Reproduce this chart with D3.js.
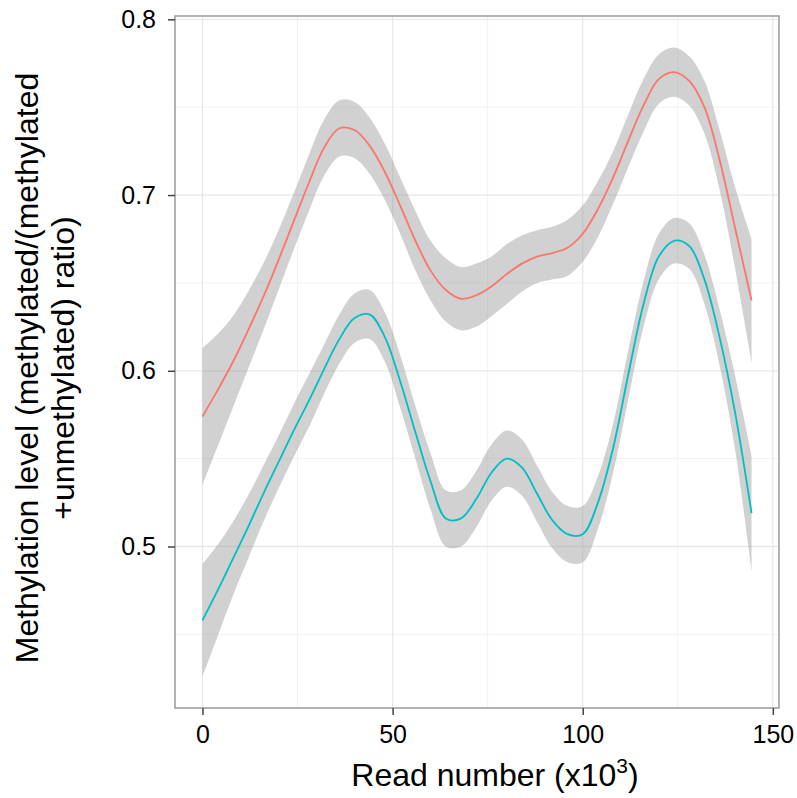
<!DOCTYPE html>
<html>
<head>
<meta charset="utf-8">
<script src="https://cdn.jsdelivr.net/npm/d3@7"></script>
<style>
  body { margin: 0; background: #fff; }
  text { font-family: "Liberation Sans", Arial, sans-serif; }
</style>
</head>
<body>
<div id="svg-container"></div>
<script>
////////////////////////////////////////////////////////////////////
////////////////////////////  Data  ////////////////////////////////
// read number (x10^3) where the smooth fits were sampled
const readNumber = [0, 4, 8, 12, 16, 20, 24, 28, 32, 36, 40, 44, 48, 52, 56, 60, 64, 68, 72,
  76, 80, 84, 88, 92, 96, 100, 104, 108, 112, 116, 120, 124, 128, 132, 136, 140, 144.4];

// upper (red) group: fitted methylation level and half width of the band
const redFit = [0.574, 0.589, 0.605, 0.623, 0.642, 0.663, 0.685, 0.707, 0.727, 0.738, 0.737, 0.728,
  0.713, 0.694, 0.674, 0.657, 0.646, 0.641, 0.643, 0.648, 0.655, 0.661, 0.665, 0.667, 0.670, 0.678,
  0.692, 0.710, 0.731, 0.751, 0.766, 0.770, 0.765, 0.750, 0.720, 0.682, 0.640];
const redSe = [0.039, 0.032, 0.026, 0.022, 0.019, 0.017, 0.016, 0.016, 0.016, 0.016, 0.016, 0.016,
  0.016, 0.016, 0.017, 0.017, 0.018, 0.018, 0.018, 0.017, 0.017, 0.016, 0.015, 0.015, 0.016, 0.016,
  0.016, 0.015, 0.015, 0.015, 0.014, 0.014, 0.014, 0.015, 0.017, 0.023, 0.035];

// lower (cyan) group
const cyanFit = [0.458, 0.475, 0.493, 0.511, 0.530, 0.548, 0.566, 0.583, 0.601, 0.618, 0.630, 0.632,
  0.619, 0.594, 0.565, 0.537, 0.516, 0.516, 0.527, 0.542, 0.550, 0.545, 0.530, 0.515, 0.507, 0.507,
  0.525, 0.556, 0.598, 0.638, 0.665, 0.674, 0.671, 0.652, 0.619, 0.577, 0.519];
const cyanSe = [0.032, 0.026, 0.021, 0.018, 0.016, 0.015, 0.015, 0.015, 0.014, 0.014, 0.014, 0.014,
  0.014, 0.015, 0.015, 0.016, 0.016, 0.016, 0.016, 0.016, 0.016, 0.016, 0.016, 0.016, 0.016, 0.016,
  0.015, 0.014, 0.014, 0.013, 0.013, 0.013, 0.013, 0.014, 0.016, 0.021, 0.033];

const xTicks = [0, 50, 100, 150];
const xMinor = [25, 75, 125];
const yTicks = [0.5, 0.6, 0.7, 0.8];
const yMinor = [0.45, 0.55, 0.65, 0.75];

const series = [
  { name: "red", fit: redFit, se: redSe, color: "#F8766D" },
  { name: "cyan", fit: cyanFit, se: cyanSe, color: "#00BFC4" },
].map((s) => ({
  ...s,
  values: readNumber.map((x, i) => ({ x, y: s.fit[i], lo: s.fit[i] - s.se[i], hi: s.fit[i] + s.se[i] })),
}));

////////////////////////////////////////////////////////////////////
////////////////////////////  Init  ////////////////////////////////
const width = 797;
const height = 798;
const margin = { top: 16, right: 18, bottom: 90, left: 175 };

const svg = d3.select("#svg-container").append("svg")
  .attr("width", width).attr("height", height);

// ggplot-like 5% expansion
const expand = (ext) => {
  const pad = (ext[1] - ext[0]) * 0.05;
  return [ext[0] - pad, ext[1] + pad];
};
const allVals = series.flatMap((s) => s.values);

const xScale = d3.scaleLinear()
  .domain(expand(d3.extent(readNumber)))
  .range([margin.left, width - margin.right]);
const yScale = d3.scaleLinear()
  .domain(expand([d3.min(allVals, (d) => d.lo), d3.max(allVals, (d) => d.hi)]))
  .range([height - margin.bottom, margin.top]);

const x0 = margin.left, x1 = width - margin.right;
const y0 = margin.top, y1 = height - margin.bottom;

////////////////////////////////////////////////////////////////////
////////////////////////////  Grid  ////////////////////////////////
const grid = svg.append("g");
grid.selectAll(".vminor").data(xMinor).join("line")
  .attr("x1", (d) => xScale(d)).attr("x2", (d) => xScale(d))
  .attr("y1", y0).attr("y2", y1)
  .attr("stroke", "#f2f2f2").attr("stroke-width", 1);
grid.selectAll(".hminor").data(yMinor).join("line")
  .attr("y1", (d) => yScale(d)).attr("y2", (d) => yScale(d))
  .attr("x1", x0).attr("x2", x1)
  .attr("stroke", "#f2f2f2").attr("stroke-width", 1);
grid.selectAll(".vmajor").data(xTicks).join("line")
  .attr("x1", (d) => xScale(d)).attr("x2", (d) => xScale(d))
  .attr("y1", y0).attr("y2", y1)
  .attr("stroke", "#e8e8e8").attr("stroke-width", 1.3);
grid.selectAll(".hmajor").data(yTicks).join("line")
  .attr("y1", (d) => yScale(d)).attr("y2", (d) => yScale(d))
  .attr("x1", x0).attr("x2", x1)
  .attr("stroke", "#e8e8e8").attr("stroke-width", 1.3);

////////////////////////////////////////////////////////////////////
////////////////////////////  Smooths  /////////////////////////////
const area = d3.area()
  .x((d) => xScale(d.x))
  .y0((d) => yScale(d.lo))
  .y1((d) => yScale(d.hi))
  .curve(d3.curveCatmullRom);

const line = d3.line()
  .x((d) => xScale(d.x))
  .y((d) => yScale(d.y))
  .curve(d3.curveCatmullRom);

series.forEach((s) => {
  svg.append("path")
    .datum(s.values)
    .attr("d", area)
    .attr("fill", "#999999")
    .attr("fill-opacity", 0.45);
  svg.append("path")
    .datum(s.values)
    .attr("d", line)
    .attr("fill", "none")
    .attr("stroke", s.color)
    .attr("stroke-width", 1.8);
});

// panel border
svg.append("rect")
  .attr("x", x0).attr("y", y0)
  .attr("width", x1 - x0).attr("height", y1 - y0)
  .attr("fill", "none")
  .attr("stroke", "#9a9a9a")
  .attr("stroke-width", 1.5);

////////////////////////////////////////////////////////////////////
////////////////////////////  Axes  ////////////////////////////////
const xAxis = svg.append("g")
  .attr("transform", `translate(0,${y1})`)
  .call(d3.axisBottom(xScale).tickValues(xTicks).tickSize(7).tickPadding(10).tickFormat(d3.format("d")));
const yAxis = svg.append("g")
  .attr("transform", `translate(${x0},0)`)
  .call(d3.axisLeft(yScale).tickValues(yTicks).tickSize(7).tickPadding(12).tickFormat(d3.format(".1f")));

[xAxis, yAxis].forEach((g) => {
  g.select(".domain").remove();
  g.selectAll(".tick line").attr("stroke", "#444").attr("stroke-width", 1.5);
  g.selectAll(".tick text")
    .attr("fill", "#000")
    .attr("font-size", 25)
    .attr("font-family", "Liberation Sans, Arial, sans-serif");
});

// x title
const xTitle = svg.append("text")
  .attr("x", 495)
  .attr("y", 786)
  .attr("text-anchor", "middle")
  .attr("font-size", 32)
  .attr("fill", "#000");
xTitle.append("tspan").text("Read number (x10");
xTitle.append("tspan").attr("font-size", 21).attr("dy", -13).text("3");
xTitle.append("tspan").attr("dy", 13).text(")");

// y title, two lines
const yTitleLines = ["Methylation level (methylated/(methylated", "+unmethylated) ratio)"];
svg.append("g")
  .attr("transform", `translate(38,${(y0 + y1) / 2 + 6}) rotate(-90)`)
  .selectAll("text")
  .data(yTitleLines)
  .join("text")
  .attr("x", 0)
  .attr("y", (d, i) => i * 36)
  .attr("text-anchor", "middle")
  .attr("font-size", 32)
  .attr("fill", "#000")
  .text((d) => d);
</script>
</body>
</html>
